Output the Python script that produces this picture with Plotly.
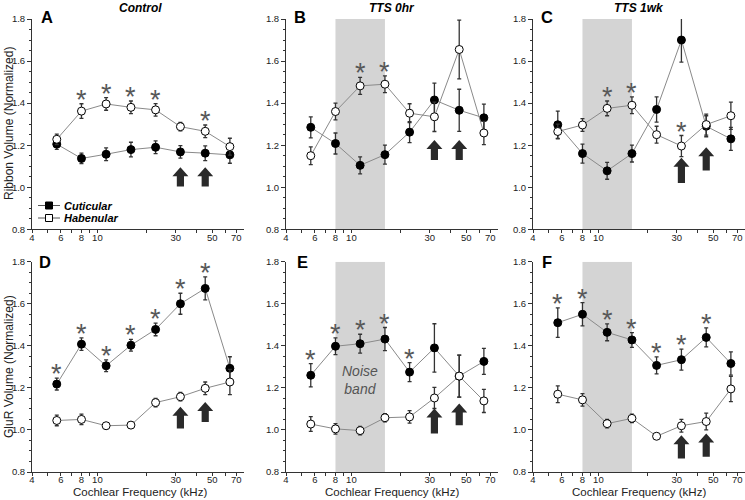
import math
import plotly.graph_objects as go

# ---------------- data ----------------
freq = [5.66, 8, 11.3, 16, 22.6, 32, 45.3, 64]
panel_letters = ["A", "B", "C", "D", "E", "F"]
panel_titles = ["Control", "TTS 0hr", "TTS 1wk"]
series_names = ["Cuticular", "Habenular"]

cut_A = [1.205, 1.137, 1.157, 1.179, 1.19, 1.168, 1.162, 1.154]
cut_A_err = [0.025, 0.025, 0.03, 0.035, 0.03, 0.03, 0.035, 0.04]
hab_A = [1.228, 1.362, 1.396, 1.38, 1.368, 1.288, 1.266, 1.193]
hab_A_err = [0.025, 0.035, 0.03, 0.03, 0.03, 0.02, 0.03, 0.04]

cut_B = [1.285, 1.208, 1.104, 1.155, 1.262, 1.415, 1.366, 1.33]
cut_B_err = [0.05, 0.05, 0.04, 0.045, 0.05, 0.08, 0.1, 0.065]
hab_B = [1.15, 1.36, 1.482, 1.49, 1.352, 1.335, 1.655, 1.258]
hab_B_err = [0.042, 0.04, 0.04, 0.04, 0.045, 0.07, 0.14, 0.055]

cut_C = [1.297, 1.16, 1.078, 1.16, 1.37, 1.7, 1.29, 1.23]
cut_C_err = [0.065, 0.045, 0.04, 0.04, 0.06, 0.105, 0.05, 0.055]
hab_C = [1.265, 1.296, 1.375, 1.39, 1.25, 1.196, 1.298, 1.34]
hab_C_err = [0.035, 0.03, 0.035, 0.04, 0.04, 0.05, 0.05, 0.065]

cut_D = [1.218, 1.408, 1.305, 1.403, 1.478, 1.6, 1.673, 1.293]
cut_D_err = [0.028, 0.03, 0.028, 0.028, 0.03, 0.05, 0.055, 0.055]
hab_D = [1.045, 1.05, 1.02, 1.023, 1.13, 1.158, 1.198, 1.228]
hab_D_err = [0.025, 0.025, 0.015, 0.015, 0.02, 0.02, 0.03, 0.06]

cut_E = [1.26, 1.398, 1.41, 1.432, 1.275, 1.39, 1.256, 1.326]
cut_E_err = [0.055, 0.04, 0.045, 0.055, 0.045, 0.115, 0.1, 0.062]
hab_E = [1.028, 1.005, 0.997, 1.058, 1.062, 1.152, 1.256, 1.138]
hab_E_err = [0.035, 0.025, 0.02, 0.02, 0.03, 0.05, 0.1, 0.055]

cut_F = [1.51, 1.55, 1.464, 1.428, 1.307, 1.334, 1.44, 1.316]
cut_F_err = [0.07, 0.055, 0.04, 0.035, 0.04, 0.05, 0.045, 0.055]
hab_F = [1.17, 1.143, 1.03, 1.055, 0.97, 1.02, 1.04, 1.195]
hab_F_err = [0.04, 0.03, 0.02, 0.02, 0.015, 0.03, 0.04, 0.06]

# significance markers: (indices, series above which the star sits)
stars_A = [1, 2, 3, 4, 6]; stars_A_on = "hab"
stars_B = [2, 3]; stars_B_on = "hab"
stars_C = [2, 3, 5]; stars_C_on = "hab"
stars_D = [0, 1, 2, 3, 4, 5, 6]; stars_D_on = "cut"
stars_E = [0, 1, 2, 3, 4]; stars_E_on = "cut"
stars_F = [0, 1, 2, 3, 4, 5, 6]; stars_F_on = "cut"

# arrows at the two most noise-sensitive frequencies: x, bottom, top
arrow_x = [32, 45.3]
arrows_A = [(1.003, 1.095), (1.003, 1.095)]
arrows_B = [(1.13, 1.225), (1.13, 1.225)]
arrows_C = [(1.02, 1.14), (1.08, 1.19)]
arrows_D = [(1.007, 1.11), (1.038, 1.133)]
arrows_E = [(0.983, 1.102), (1.022, 1.126)]
arrows_F = [(0.864, 0.975), (0.872, 0.983)]

noise_band = [8, 16]
noise_panels = [False, True, True, False, True, True]

x_tickvals = [4, 5, 6, 7, 8, 9, 10, 20, 30, 40, 50, 60, 70]
x_ticktext = ["4", "", "6", "", "8", "", "10", "", "30", "", "50", "", "70"]
y_tickvals = [0.8, 1.0, 1.2, 1.4, 1.6, 1.8]
y_ticktext = ["0.8", "1.0", "1.2", "1.4", "1.6", "1.8"]

panels = [
    (cut_A, cut_A_err, hab_A, hab_A_err, stars_A, stars_A_on, arrows_A),
    (cut_B, cut_B_err, hab_B, hab_B_err, stars_B, stars_B_on, arrows_B),
    (cut_C, cut_C_err, hab_C, hab_C_err, stars_C, stars_C_on, arrows_C),
    (cut_D, cut_D_err, hab_D, hab_D_err, stars_D, stars_D_on, arrows_D),
    (cut_E, cut_E_err, hab_E, hab_E_err, stars_E, stars_E_on, arrows_E),
    (cut_F, cut_F_err, hab_F, hab_F_err, stars_F, stars_F_on, arrows_F),
]

# ---------------- layout geometry ----------------
W, H = 745, 500
ML, MR, MT, MB = 32, 0, 19, 28
PW, PH = W - ML - MR, H - MT - MB


def px_x(p):
    return (p - ML) / PW


def px_y(p):
    return (H - MB - p) / PH


col_dom = [[px_x(32), px_x(244)], [px_x(286), px_x(498)], [px_x(533), px_x(745)]]
row_dom = [[px_y(229.3), 1.0], [0.0, px_y(261.7)]]

FONT = "Liberation Sans, Arial, sans-serif"
fig = go.Figure()
shapes = []
annotations = []

for i, (cut, cerr, hab, herr, stars, stars_on, arrows) in enumerate(panels):
    n = i + 1
    xa = "x" if n == 1 else f"x{n}"
    ya = "y" if n == 1 else f"y{n}"
    r, c = divmod(i, 3)

    fig.add_trace(go.Scatter(
        x=freq, y=cut, xaxis=xa, yaxis=ya, mode="lines+markers",
        name=series_names[0], showlegend=False,
        line=dict(color="#8a8a8a", width=1),
        marker=dict(symbol="circle", size=8, color="black", line=dict(color="black", width=1)),
        error_y=dict(type="data", array=cerr, color="#333", thickness=1.3, width=2),
        cliponaxis=False,
    ))
    fig.add_trace(go.Scatter(
        x=freq, y=hab, xaxis=xa, yaxis=ya, mode="lines+markers",
        name=series_names[1], showlegend=False,
        line=dict(color="#8a8a8a", width=1),
        marker=dict(symbol="circle", size=8, color="white", line=dict(color="black", width=1)),
        error_y=dict(type="data", array=herr, color="#333", thickness=1.3, width=2),
        cliponaxis=False,
    ))

    axis_common = dict(showgrid=False, zeroline=False, showline=True, linecolor="#333",
                       linewidth=1, ticks="outside", tickcolor="#333", ticklen=3,
                       tickfont=dict(family=FONT, size=9.5, color="#222"))
    fig.layout[f"xaxis{'' if n == 1 else n}"] = dict(
        axis_common, type="log", range=[math.log10(4), math.log10(78)],
        domain=col_dom[c], anchor=ya, tickmode="array",
        tickvals=x_tickvals, ticktext=x_ticktext, ticklabelstandoff=-4)
    fig.layout[f"yaxis{'' if n == 1 else n}"] = dict(
        axis_common, range=[0.8, 1.8], domain=row_dom[r], anchor=xa,
        tickmode="array", tickvals=y_tickvals, ticktext=y_ticktext, ticklen=4,
        minor=dict(dtick=0.05, tick0=0.8, ticklen=2, ticks="outside", tickcolor="#333"))

    if noise_panels[i]:
        shapes.append(dict(type="rect", xref=xa, yref=ya, x0=noise_band[0], x1=noise_band[1],
                           y0=0.8, y1=1.8, fillcolor="#d4d4d4", line=dict(width=0), layer="below"))

    # arrows
    for ax_x, (yb, yt) in zip(arrow_x, arrows):
        yn = yt - 0.043
        path = (f"M-3.6,{yb} L3.6,{yb} L3.6,{yn} L8,{yn} L0,{yt} L-8,{yn} L-3.6,{yn} Z")
        shapes.append(dict(type="path", xref=xa, yref=ya, xsizemode="pixel", xanchor=ax_x,
                           path=path, fillcolor="#2a2a2a", line=dict(width=0)))

    # asterisks
    base = hab if stars_on == "hab" else cut
    berr = herr if stars_on == "hab" else cerr
    for k in stars:
        annotations.append(dict(x=math.log10(freq[k]), y=base[k] + berr[k], xref=xa, yref=ya,
                                text="*", showarrow=False, yanchor="middle", yshift=4,
                                font=dict(family=FONT, size=27, color="#585858")))

    # panel letters
    letter_px = [(47, 17), (300, 17), (547, 17), (45, 262), (302, 262), (547, 262)][i]
    annotations.append(dict(x=px_x(letter_px[0]), y=px_y(letter_px[1]), xref="paper", yref="paper",
                            text=f"<b>{panel_letters[i]}</b>", showarrow=False,
                            xanchor="center", yanchor="middle",
                            font=dict(family=FONT, size=16.5, color="black")))

# column titles
for c, t in enumerate(panel_titles):
    cx = [140, 392, 639][c]
    annotations.append(dict(x=px_x(cx), y=px_y(8), xref="paper", yref="paper",
                            text=f"<b><i>{t}</i></b>", showarrow=False,
                            xanchor="center", yanchor="middle",
                            font=dict(family=FONT, size=12, color="black")))

# axis titles
annotations.append(dict(x=px_x(9), y=px_y(124), xref="paper", yref="paper",
                        text="Ribbon Volume (Normalized)", textangle=-90, showarrow=False,
                        xanchor="center", yanchor="middle",
                        font=dict(family=FONT, size=12, color="#222")))
annotations.append(dict(x=px_x(9), y=px_y(367), xref="paper", yref="paper",
                        text="GluR Volume (Normalized)", textangle=-90, showarrow=False,
                        xanchor="center", yanchor="middle",
                        font=dict(family=FONT, size=12, color="#222")))
for cx in [140, 392, 639]:
    annotations.append(dict(x=px_x(cx), y=px_y(492), xref="paper", yref="paper",
                            text="Cochlear Frequency (kHz)", showarrow=False,
                            xanchor="center", yanchor="middle",
                            font=dict(family=FONT, size=11.5, color="#222")))

# noise band label in panel E
annotations.append(dict(x=math.log10(11.3), y=1.237, xref="x5", yref="y5",
                        text="<i>Noise<br>band</i>", showarrow=False,
                        xanchor="center", yanchor="middle",
                        font=dict(family=FONT, size=14, color="#555")))

# manual legend in panel A
for j, (nm, fill) in enumerate(zip(series_names, ["black", "white"])):
    ly = [205.5, 218][j]
    shapes.append(dict(type="line", xref="paper", yref="paper",
                       x0=px_x(38), x1=px_x(60), y0=px_y(ly), y1=px_y(ly),
                       line=dict(color="#555", width=1)))
    shapes.append(dict(type="rect", xref="paper", yref="paper",
                       x0=px_x(45.5), x1=px_x(52.5), y0=px_y(ly + 3.5), y1=px_y(ly - 3.5),
                       fillcolor=fill, line=dict(color="black", width=1)))
    annotations.append(dict(x=px_x(62), y=px_y(ly), xref="paper", yref="paper",
                            text=f"<b><i>{nm}</i></b>", showarrow=False,
                            xanchor="left", yanchor="middle",
                            font=dict(family=FONT, size=11, color="black")))

fig.update_layout(
    width=W, height=H, margin=dict(l=ML, r=MR, t=MT, b=MB),
    paper_bgcolor="white", plot_bgcolor="white",
    shapes=shapes, annotations=annotations, showlegend=False,
)

fig.write_html("out.html", config={"displayModeBar": False},
               post_script="document.body.style.margin='0';document.body.style.overflow='hidden';")
